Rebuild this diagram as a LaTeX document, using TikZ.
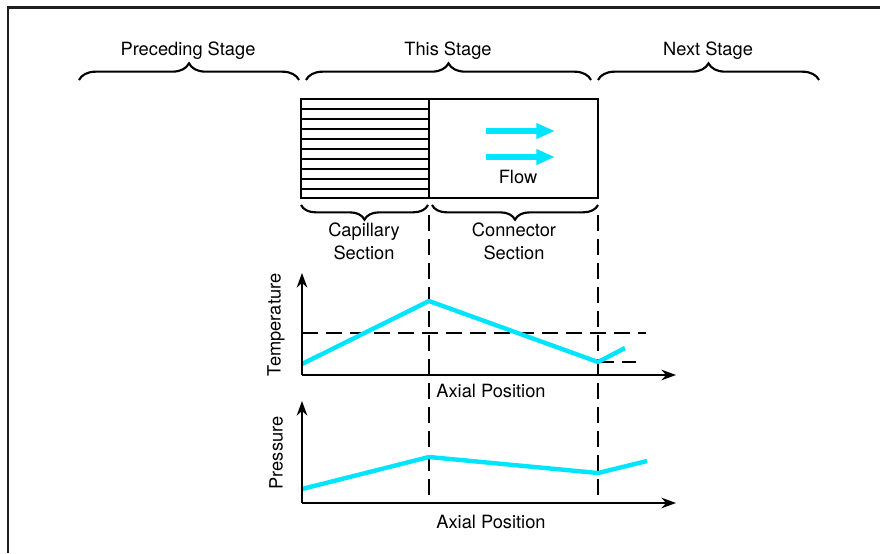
\documentclass[tikz,border=0pt]{standalone}
\usepackage{fontspec}
\setmainfont{TeX Gyre Heros}
\usetikzlibrary{arrows.meta,decorations.pathreplacing}
\definecolor{flowcyan}{RGB}{0,229,255}

\begin{document}
\begin{tikzpicture}[x=0.75pt,y=-0.75pt,
   every node/.style={font=\fontsize{13.7}{17.2}\selectfont,inner sep=0pt,align=center},
   stagebrace/.style={decorate,decoration={brace,amplitude=12.5pt},line width=1.6pt},
   sectionbrace/.style={decorate,decoration={brace,amplitude=11pt,mirror},line width=1.6pt},
   axis/.style={line width=1.1pt,-{Stealth[length=11pt,width=8pt]}},
   guide/.style={line width=0.9pt,dash pattern=on 12pt off 6pt},
   curve/.style={flowcyan,line width=3.3pt,line join=round},
   flowarrow/.style={flowcyan,line width=3.8pt,-{Triangle[length=14pt,width=11pt]}}]
\useasboundingbox (0,0) rectangle (880,553);
\draw[line width=1.6pt,black!88] (880,7.5) -| (8,553);

\node (prec) [anchor=base] at (188,55) {Preceding Stage};
\node (this) [anchor=base] at (448,55) {This Stage};
\node (next) [anchor=base] at (708,55) {Next Stage};
\coordinate (precL) at (79,80);  \coordinate (precR) at (299,80);
\coordinate (thisL) at (306,80); \coordinate (thisR) at (591,80);
\coordinate (nextL) at (598,80); \coordinate (nextR) at (819,80);
\draw[stagebrace] (precL) -- (precR);
\draw[stagebrace] (thisL) -- (thisR);
\draw[stagebrace] (nextL) -- (nextR);

\coordinate (boxNW) at (301,99); \coordinate (boxSE) at (598,198);
\coordinate (splitN) at (429,99); \coordinate (splitS) at (429,198);
\draw[line width=1pt] (boxNW) rectangle (boxSE);
\draw[line width=1pt] (splitN) -- (splitS);
\foreach \y in {109,119,...,189}
   \draw[line width=0.9pt] (301,\y) -- (429,\y);
\draw[line width=1.6pt] (301,198) -- (splitS);
\coordinate (flowA) at (486,131); \coordinate (flowAend) at (555,131);
\coordinate (flowB) at (486,157); \coordinate (flowBend) at (555,157);
\draw[flowarrow] (flowA) -- (flowAend);
\draw[flowarrow] (flowB) -- (flowBend);
\node (flow) at (518,177) {Flow};

\coordinate (capL) at (301,205);  \coordinate (capR) at (428,205);
\coordinate (connL) at (432,205); \coordinate (connR) at (598,205);
\draw[sectionbrace] (capL) -- (capR);
\draw[sectionbrace] (connL) -- (connR);
\node (cap) at (364,241) {Capillary\\Section};
\node (conn) at (514,241) {Connector\\Section};

\coordinate (cutA) at (429,215); \coordinate (cutAend) at (429,502);
\coordinate (cutB) at (598,215); \coordinate (cutBend) at (598,502);
\draw[guide] (cutA) -- (cutAend);
\draw[guide] (cutB) -- (cutBend);

\coordinate (tO) at (302,375);
\coordinate (tY) at (302,273); \coordinate (tX) at (676,375);
\draw[guide] (302,333) -- (646,333);
\draw[guide] (598,362) -- (636,362);
\draw[curve] (302,364) -- (429,301) -- (598,362) -- (625,348);
\draw[axis] (tO) -- (tY);
\draw[axis] (tO) -- (tX);
\node (temp) [rotate=90] at (276,325) {Temperature};
\node (axT) at (491,391) {Axial Position};

\coordinate (pO) at (302,503);
\coordinate (pY) at (302,401); \coordinate (pX) at (676,503);
\draw[curve] (302,489) -- (429,457) -- (598,473) -- (647,461);
\draw[axis] (pO) -- (pY);
\draw[axis] (pO) -- (pX);
\node (press) [rotate=90] at (276,453) {Pressure};
\node (axP) at (491,521.5) {Axial Position};
\end{tikzpicture}
\end{document}
